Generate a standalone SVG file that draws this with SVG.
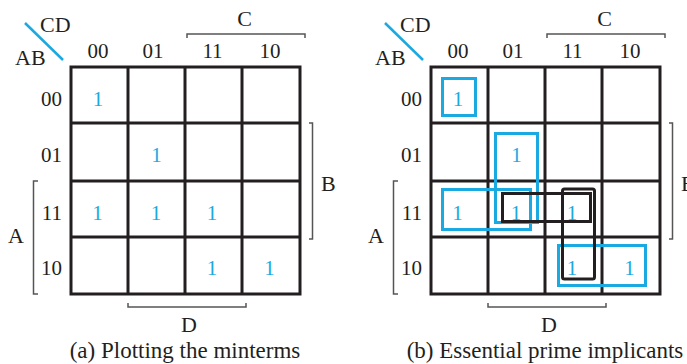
<svg xmlns="http://www.w3.org/2000/svg" width="687" height="364" viewBox="0 0 687 364">
<defs>
<style>
text{font-family:"Liberation Serif","Times New Roman",serif;font-size:21px;fill:#231f20}
.big{font-size:22px}
.cap{font-size:23px;text-anchor:middle}
.lbl{text-anchor:middle}
.rl{text-anchor:end}
.one{fill:#1ba9e1;text-anchor:middle}
.grid{fill:none;stroke:#231f20;stroke-width:3}
.br{fill:none;stroke:#555;stroke-width:1.5}
.diag{stroke:#1ba9e1;stroke-width:2.5}
.bl{fill:none;stroke:#1ba9e1;stroke-width:3}
.bk{fill:none;stroke:#231f20;stroke-width:3}
</style>
<g id="kmap">
<line class="diag" x1="25" y1="23" x2="63" y2="60"/>
<text class="big" x="40" y="32">CD</text>
<text class="big" x="15" y="65">AB</text>
<text class="lbl" x="98" y="58">00</text>
<text class="lbl" x="153" y="58">01</text>
<text class="lbl" x="212.5" y="58">11</text>
<text class="lbl" x="270" y="58">10</text>
<text class="rl" x="62" y="106">00</text>
<text class="rl" x="62" y="162">01</text>
<text class="rl" x="62" y="220">11</text>
<text class="rl" x="62" y="275">10</text>
<path class="grid" d="M71,67H300V294H71Z M128,67V294 M185,67V294 M242,67V294 M71,123H300 M71,181H300 M71,237H300"/>
<path class="br" d="M187,38V34H305V38"/>
<text class="lbl big" x="244.5" y="26">C</text>
<path class="br" d="M309,123H312.5V239H309"/>
<text class="big" x="321" y="191">B</text>
<path class="br" d="M38,181H33.5V294H38"/>
<text class="big" x="8" y="243">A</text>
<path class="br" d="M128,303V307H246V303"/>
<text class="lbl big" x="189" y="332">D</text>
<text class="one" x="98" y="106">1</text>
<text class="one" x="156.5" y="162">1</text>
<text class="one" x="97.5" y="220">1</text>
<text class="one" x="156" y="220">1</text>
<text class="one" x="212" y="220">1</text>
<text class="one" x="212" y="275">1</text>
<text class="one" x="269.5" y="275">1</text>
</g>
</defs>
<rect width="687" height="364" fill="#fff"/>
<g id="panel-a">
<use href="#kmap"/>
<text class="cap" x="185" y="358">(a) Plotting the minterms</text>
</g>
<g id="panel-b">
<use href="#kmap" transform="translate(360,0)"/>
<text class="cap" x="545" y="358">(b) Essential prime implicants</text>
</g>
<g id="loops">
<rect class="bl" x="442.5" y="78.5" width="33" height="37"/>
<rect class="bl" x="495.5" y="133.5" width="42" height="89"/>
<rect class="bl" x="442.5" y="189.5" width="88" height="40"/>
<rect class="bl" x="558.5" y="245.5" width="87" height="40"/>
<rect class="bk" x="502.5" y="193.5" width="88" height="28"/>
<rect class="bk" x="562.5" y="189" width="32" height="90" rx="2"/>
</g>
</svg>
